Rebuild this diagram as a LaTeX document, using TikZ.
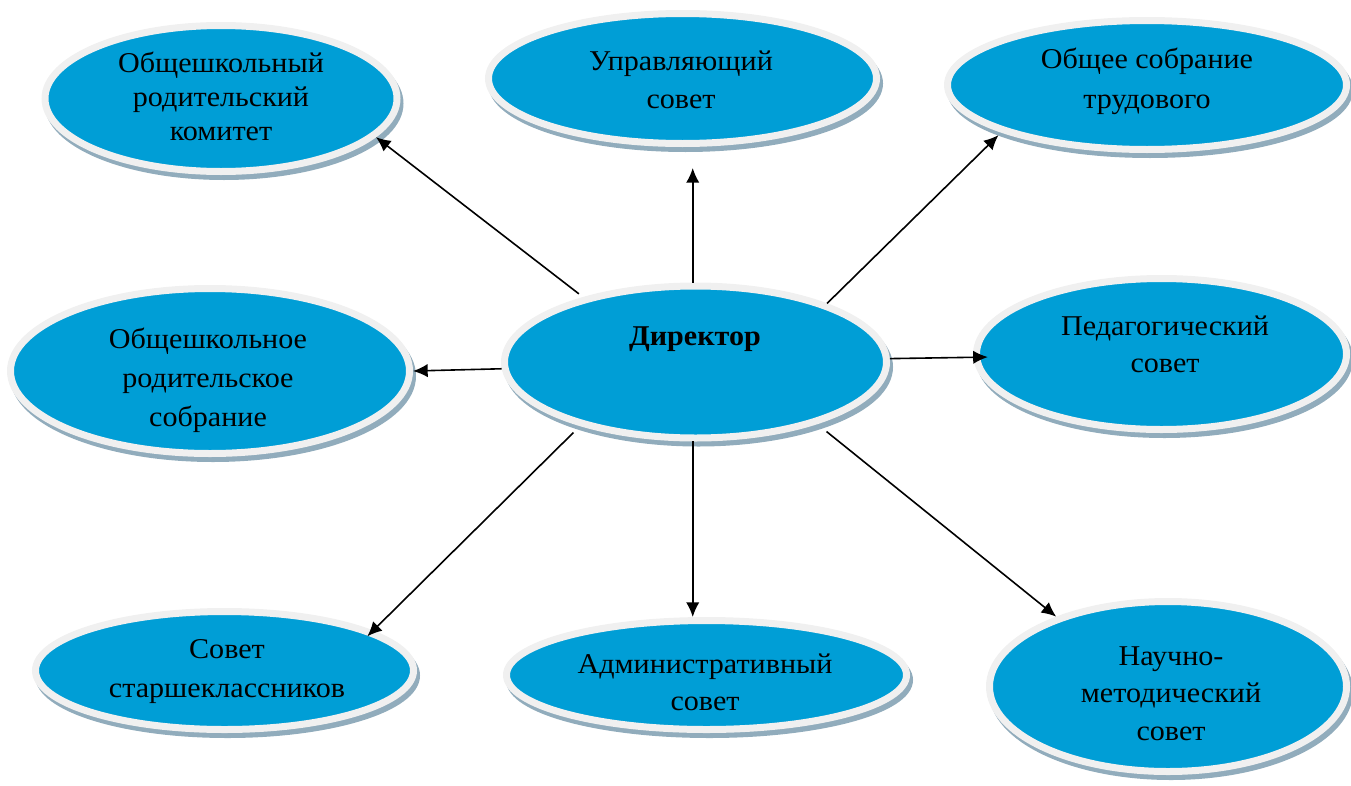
\documentclass[tikz,border=0pt]{standalone}
\usepackage{fontspec}
\setmainfont{Liberation Serif}[FakeStretch=1.05]
\usetikzlibrary{shapes.geometric,arrows.meta}
\definecolor{eblue}{RGB}{0,158,214}
\definecolor{ering}{RGB}{240,240,240}
\definecolor{eshadow}{RGB}{145,172,188}
\begin{document}
\begin{tikzpicture}[x=0.75pt,y=-0.75pt,
  ell/.style 2 args={ellipse, minimum width={#1*1.5pt}, minimum height={#2*1.5pt},
    inner sep=0pt, fill=eblue, draw=ering, line width=5.25pt,
    preaction={fill=eshadow, draw=eshadow, line width=5.25pt,
      transform canvas={shift={(3,5)}}}},
  lbl/.style={font=\fontsize{21.5pt}{#1pt}\selectfont, align=center, inner sep=0pt, text=black},
  arr/.style={draw=black, line width=1.2pt, -{Latex[length=11pt,width=10pt]}}]
\useasboundingbox (0,0) rectangle (1351,785);
% ellipses
\node[ell={176}{73}] (tl) at (221,98.5) {};
\node[ell={194}{65}] (tm) at (682.5,78.5) {};
\node[ell={199.5}{64.5}] (tr) at (1147,85) {};
\node[ell={199.5}{82.5}] (ml) at (210,371) {};
\node[ell={191}{76}] (dir) at (695.5,362) {};
\node[ell={185}{75.5}] (mr) at (1161.5,354) {};
\node[ell={189}{59}] (bl) at (224.5,670.5) {};
\node[ell={200}{54.5}] (bm) at (706.5,675) {};
\node[ell={178.5}{85}] (br) at (1168,686.5) {};
% connectors
\draw[arr, shorten <=4pt] (dir.150) -- (tl.-14);
\draw[arr, shorten >=15.75pt] (dir.92) -- (dir.92 |- tm.south);
\draw[arr, shorten >=3pt] (dir.24) -- (tr.198);
\draw[arr] (dir.182) -- (ml.0);
\draw[arr, shorten >=-11pt] (dir.1) -- (mr.181);
\draw[arr, shorten <=7pt, shorten >=-6pt] (dir.209) -- (bl.15);
\draw[arr] (dir.268) -- (dir.268 |- bm.north);
\draw[arr, shorten <=9pt] (dir.-27) -- (br.148);
% labels
\node[lbl=25.5] (ttl) at (221,99.2) {\strut Общешкольный\\\strut родительский\\\strut комитет};
\node[lbl=28.5] (ttm) at (681,81.4) {\strut Управляющий\\\strut совет};
\node[lbl=30] (ttr) at (1147,80) {\strut Общее собрание\\\strut трудового};
\node[lbl=29.25] (tml) at (208,379.2) {\strut Общешкольное\\\strut родительское\\\strut собрание};
\node[lbl=25.5] (tdir) at (695,338.2) {\bfseries\strut Директор};
\node[lbl=27.75] (tmr) at (1165,346.1) {\strut Педагогический\\\strut совет};
\node[lbl=29.25] (tbl) at (227,669.7) {\strut Совет\\\strut старшеклассников};
\node[lbl=27.75] (tbm) at (705,684.1) {\strut Административный\\\strut совет};
\node[lbl=28.125] (tbr) at (1171,695) {\strut Научно-\\\strut методический\\\strut совет};
\end{tikzpicture}
\end{document}
